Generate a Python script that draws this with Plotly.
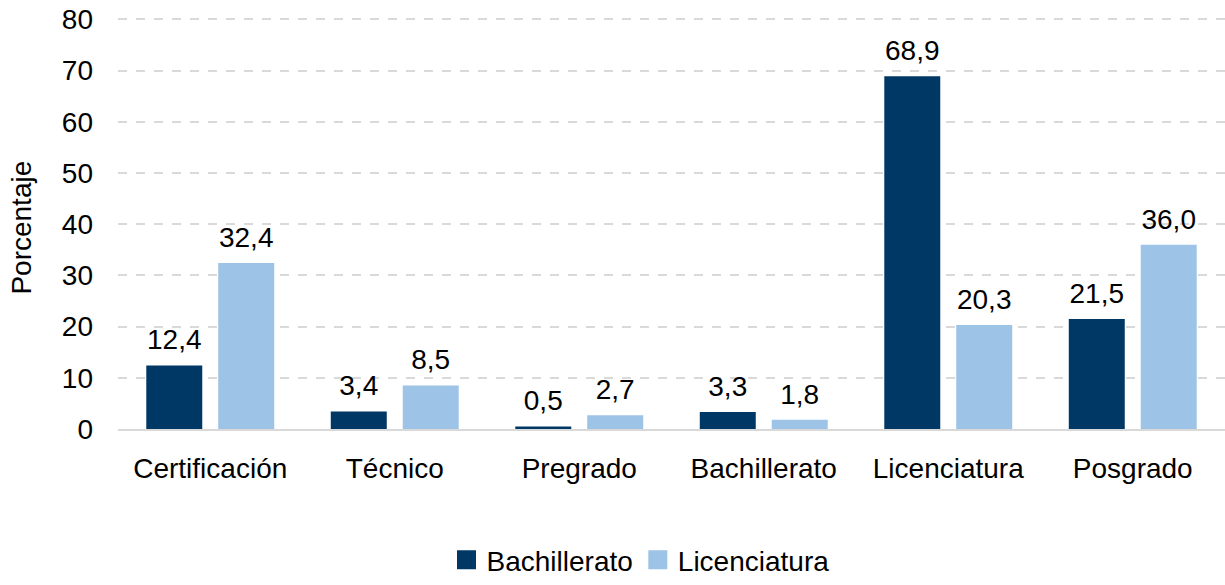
import plotly.graph_objects as go

categorias = ["Certificación", "Técnico", "Pregrado", "Bachillerato", "Licenciatura", "Posgrado"]
bachillerato = [12.4, 3.4, 0.5, 3.3, 68.9, 21.5]
licenciatura = [32.4, 8.5, 2.7, 1.8, 20.3, 36.0]
y_ticks = [0, 10, 20, 30, 40, 50, 60, 70, 80]

FONT = "Liberation Sans, Arial, sans-serif"
FS = 28
C_BACH = "#003865"
C_LIC = "#9dc3e6"
BARGAP = 0.22

series = [("Bachillerato", bachillerato, C_BACH, "g1"), ("Licenciatura", licenciatura, C_LIC, "g2")]

fig = go.Figure()
for name, vals, col, grp in series:
    fig.add_trace(go.Bar(
        name=name, x=categorias, y=vals, offsetgroup=grp,
        marker_color=col, marker_line_width=0,
        showlegend=False, hoverinfo="x+y",
    ))
# value labels placed above each bar (invisible marker pushes text up)
for name, vals, col, grp in series:
    fig.add_trace(go.Scatter(
        name=name, x=categorias, y=vals, offsetgroup=grp,
        mode="markers+text",
        marker=dict(size=13, color="rgba(0,0,0,0)"),
        text=[f"{v:.1f}".replace(".", ",") for v in vals],
        textposition="top center", cliponaxis=False,
        textfont=dict(size=FS, color="#000000", family=FONT),
        showlegend=False, hoverinfo="skip",
    ))
# legend-only entries with square markers
for name, vals, col, grp in series:
    fig.add_trace(go.Scatter(
        name=name, x=[None], y=[None], mode="markers", offsetgroup=grp,
        marker=dict(symbol="square", size=16, color=col, line=dict(width=3, color=col)),
        showlegend=True,
    ))

fig.update_layout(
    width=1225, height=585,
    margin=dict(l=118, r=0, t=18, b=150),
    paper_bgcolor="white", plot_bgcolor="white",
    barmode="group", bargap=BARGAP, bargroupgap=0.222,
    scattermode="group", scattergap=BARGAP,
    font=dict(family=FONT, size=FS, color="#000000"),
    showlegend=True,
    legend=dict(orientation="h", x=0.472, xanchor="center", y=-0.32, yanchor="middle",
                font=dict(size=FS), itemwidth=30, traceorder="normal",
                tracegroupgap=0, itemclick=False),
    separators=",.",
    annotations=[dict(text="Porcentaje", xref="paper", yref="paper",
                      x=-(118 - 22) / 1107, y=0.49,
                      xanchor="center", yanchor="middle", textangle=-90,
                      showarrow=False, font=dict(size=FS, family=FONT, color="#000000"))],
)
fig.update_xaxes(showline=True, linecolor="#d9d9d9", linewidth=2, ticks="",
                 tickfont=dict(size=FS), showgrid=False, automargin=False,
                 ticklabelstandoff=13)
fig.update_yaxes(range=[0, 80.25], tickvals=y_ticks, showgrid=True,
                 gridcolor="#d9d9d9", griddash="dash", gridwidth=1.5,
                 zeroline=False, showline=False, ticks="",
                 tickfont=dict(size=FS), automargin=False,
                 ticklabelstandoff=24)

fig.write_html(
    "out.html",
    config={"displayModeBar": False},
    post_script="document.body.style.margin='0';document.body.style.overflow='hidden';"
                "document.documentElement.style.overflow='hidden';",
)
